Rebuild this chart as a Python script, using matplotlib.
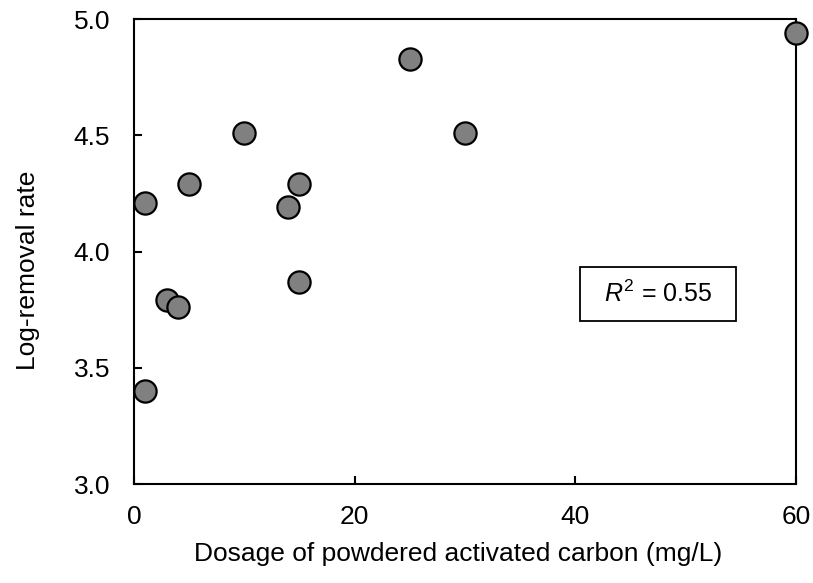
import matplotlib
matplotlib.use("Agg")
import matplotlib.pyplot as plt
from matplotlib.patches import Rectangle

plt.rcParams['font.family'] = ['Liberation Sans', 'DejaVu Sans']
plt.rcParams['mathtext.fontset'] = 'custom'
plt.rcParams['mathtext.rm'] = 'Liberation Sans'
plt.rcParams['mathtext.it'] = 'Liberation Sans:italic'

dosage = [1, 1, 3, 4, 5, 10, 14, 15, 15, 25, 30, 60]
log_removal = [3.40, 4.21, 3.79, 3.76, 4.29, 4.51, 4.19, 4.29, 3.87, 4.83, 4.51, 4.94]
r2_text = r"$\mathit{R}^{\mathrm{2}}$ = 0.55"

fig = plt.figure(figsize=(8.13, 5.83), dpi=100)
ax = fig.add_axes([0.1648, 0.1698, 0.8142, 0.7976])

ax.plot(dosage, log_removal, linestyle='none', marker='o', markersize=16,
        markerfacecolor='#808080', markeredgecolor='black', markeredgewidth=1.6,
        clip_on=False, zorder=3)

ax.set_xlim(0, 60)
ax.set_ylim(3.0, 5.0)
ax.set_xticks([0, 20, 40, 60])
ax.set_yticks([3.0, 3.5, 4.0, 4.5, 5.0])
ax.set_yticklabels(['3.0', '3.5', '4.0', '4.5', '5.0'])
ax.tick_params(direction='in', labelsize=19, width=1.5, length=6)
ax.tick_params(axis='x', pad=15)
ax.tick_params(axis='y', pad=17)
for s in ax.spines.values():
    s.set_linewidth(1.5)

ax.set_xlabel('Dosage of powdered activated carbon (mg/L)', fontsize=19)
ax.set_ylabel('Log-removal rate', fontsize=19)
ax.xaxis.set_label_coords(0.489, -0.125)
ax.yaxis.set_label_coords(-0.142, 0.46)

ax.add_patch(Rectangle((0.6737, 0.3505), 0.2357, 0.1161, transform=ax.transAxes,
                       facecolor='white', edgecolor='black', linewidth=1.3, zorder=4))
ax.text(0.7915, 0.4086, r2_text, transform=ax.transAxes, ha='center', va='center',
        fontsize=18, zorder=5)

fig.savefig('out.png', dpi=100)
